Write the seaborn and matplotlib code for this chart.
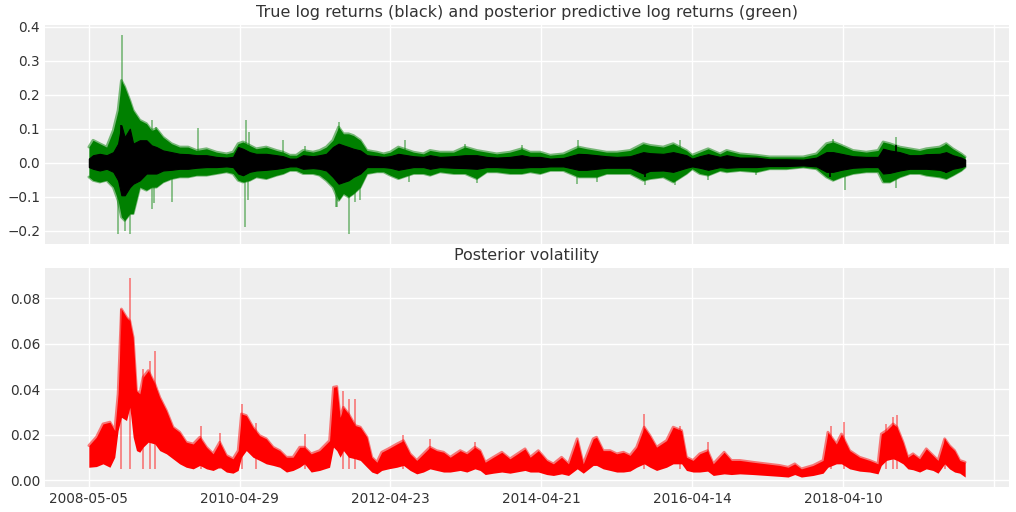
import matplotlib
matplotlib.use("Agg")
import matplotlib.pyplot as plt
import seaborn as sns

# --- values (trading-day index -> value) ---
date_ticks = [0, 500, 1000, 1500, 2000, 2500, 3000]
date_labels = ["2008-05-05", "2010-04-29", "2012-04-23", "2014-04-21",
               "2016-04-14", "2018-04-10", ""]

# top panel: envelope of posterior predictive returns (green) and true returns (black)
ret_idx = [0, 14, 36, 59, 81, 97, 108, 119, 136, 147, 169, 191, 208, 224, 246, 274,
           301, 329, 357, 390, 423, 456, 478, 495, 511, 533, 555, 588, 622, 644, 666,
           688, 710, 743, 765, 787, 809, 828, 844, 861, 877, 900, 922, 955, 977, 999,
           1026, 1076, 1109, 1131, 1164, 1209, 1247, 1286, 1319, 1352, 1396, 1435,
           1463, 1496, 1529, 1573, 1623, 1650, 1683, 1716, 1750, 1794, 1838, 1860,
           1904, 1937, 1981, 2000, 2025, 2053, 2092, 2114, 2158, 2213, 2257, 2312,
           2368, 2412, 2445, 2467, 2495, 2533, 2577, 2616, 2633, 2655, 2688, 2721,
           2754, 2776, 2820, 2842, 2864, 2892, 2905]
pp_hi = [.046, .066, .056, .046, .095, .154, .242, .223, .183, .154, .125, .115, .095,
         .100, .075, .056, .046, .046, .036, .041, .031, .026, .031, .056, .061, .051,
         .041, .046, .036, .031, .022, .022, .036, .031, .036, .046, .066, .105, .085,
         .085, .080, .066, .036, .031, .026, .031, .046, .031, .026, .036, .031, .031,
         .046, .036, .031, .026, .031, .041, .031, .031, .022, .026, .046, .041, .036,
         .031, .031, .036, .056, .051, .046, .056, .036, .022, .031, .041, .026, .036,
         .026, .022, .017, .017, .017, .026, .056, .061, .051, .036, .031, .036, .061,
         .056, .046, .041, .036, .041, .046, .056, .041, .026, .017]
pp_lo = [-.042, -.052, -.057, -.052, -.072, -.111, -.160, -.170, -.150, -.150, -.072,
         -.081, -.072, -.072, -.057, -.047, -.042, -.042, -.037, -.037, -.032, -.027,
         -.032, -.052, -.057, -.052, -.042, -.047, -.037, -.032, -.023, -.023, -.032,
         -.032, -.037, -.052, -.072, -.111, -.091, -.101, -.091, -.072, -.032, -.027,
         -.027, -.037, -.047, -.032, -.032, -.037, -.027, -.032, -.032, -.047, -.027,
         -.027, -.032, -.032, -.027, -.032, -.023, -.023, -.042, -.042, -.042, -.032,
         -.032, -.032, -.052, -.047, -.042, -.057, -.032, -.018, -.032, -.037, -.023,
         -.027, -.023, -.027, -.018, -.018, -.013, -.018, -.042, -.052, -.042, -.032,
         -.027, -.027, -.057, -.057, -.042, -.032, -.032, -.037, -.042, -.047, -.037,
         -.023, -.013]
true_hi = [.012, .022, .026, .022, .031, .056, .110, .075, .100, .056, .066, .066, .051,
           .046, .036, .031, .026, .025, .022, .022, .017, .015, .017, .046, .041, .031,
           .026, .026, .022, .019, .012, .012, .022, .019, .022, .026, .046, .056, .051,
           .046, .041, .036, .022, .019, .017, .019, .026, .019, .017, .022, .017, .019,
           .022, .022, .017, .015, .017, .022, .017, .017, .012, .014, .026, .025, .022,
           .019, .017, .019, .031, .028, .026, .031, .022, .012, .019, .025, .017, .022,
           .015, .015, .010, .010, .009, .015, .031, .031, .026, .019, .017, .017, .041,
           .036, .031, .022, .022, .025, .026, .031, .022, .015, .009]
true_lo = [-.013, -.018, -.023, -.018, -.027, -.052, -.096, -.096, -.072, -.062, -.052,
           -.032, -.032, -.032, -.023, -.021, -.018, -.018, -.015, -.013, -.013, -.011,
           -.013, -.032, -.037, -.027, -.023, -.021, -.018, -.015, -.011, -.011, -.018,
           -.016, -.018, -.023, -.042, -.062, -.057, -.052, -.042, -.032, -.013, -.013,
           -.013, -.015, -.021, -.013, -.013, -.018, -.013, -.015, -.016, -.018, -.013,
           -.013, -.015, -.015, -.013, -.013, -.011, -.011, -.021, -.021, -.018, -.015,
           -.015, -.015, -.032, -.024, -.023, -.027, -.015, -.011, -.015, -.021, -.013,
           -.015, -.013, -.013, -.010, -.010, -.008, -.011, -.027, -.027, -.021, -.015,
           -.013, -.013, -.032, -.030, -.023, -.018, -.018, -.018, -.021, -.027, -.018,
           -.013, -.009]
pp_spike_idx = [97, 109, 119, 136, 208, 208, 216, 224, 276, 362, 519, 520, 528, 531,
                644, 715, 820, 822, 828, 861, 883, 900, 1049, 1060, 1247, 1286, 1435,
                1617, 1623, 1683, 1843, 1943, 1959, 2053, 2213, 2467, 2506, 2677, 2677,
                2842]
pp_spike_val = [-.209, .376, -.200, -.210, .125, -.137, -.120, .105, -.116, .102,
                -.188, .125, -.111, .090, .066, .049, -.130, -.130, .120, -.209, -.116,
                -.111, .066, -.057, .056, -.059, .051, -.062, .066, -.057, -.067, -.065,
                .066, -.052, -.037, .069, -.081, .075, -.076, .056]
true_spike_idx = [108, 1843, 2456, 2677, 2842]
true_spike_val = [.110, -.042, -.042, .051, -.030]

# bottom panel: envelope of posterior volatility samples (red)
vol_idx = [0, 25, 47, 70, 86, 97, 108, 125, 136, 147, 158, 169, 180, 197, 219, 235,
           257, 279, 301, 323, 346, 368, 390, 412, 434, 456, 478, 495, 506, 522, 544,
           566, 588, 611, 633, 655, 677, 699, 715, 737, 765, 798, 811, 822, 833, 844,
           861, 883, 900, 922, 938, 955, 971, 993, 1021, 1043, 1065, 1087, 1109, 1131,
           1153, 1176, 1198, 1231, 1253, 1280, 1297, 1314, 1341, 1369, 1396, 1446,
           1463, 1490, 1518, 1540, 1567, 1590, 1619, 1639, 1672, 1683, 1705, 1728,
           1750, 1772, 1794, 1816, 1841, 1860, 1882, 1915, 1937, 1965, 1981, 2003,
           2025, 2051, 2070, 2106, 2130, 2158, 2202, 2246, 2290, 2318, 2340, 2362,
           2401, 2434, 2450, 2478, 2495, 2522, 2555, 2588, 2616, 2627, 2644, 2666,
           2679, 2699, 2715, 2732, 2754, 2776, 2798, 2815, 2837, 2853, 2870, 2887, 2905]
vol_hi = [.0153, .0190, .0248, .0256, .0219, .0380, .0752, .0715, .0700, .0628, .0394,
          .0380, .0453, .0482, .0423, .0365, .0307, .0234, .0212, .0168, .0160, .0190,
          .0146, .0117, .0168, .0110, .0095, .0131, .0292, .0285, .0234, .0197, .0183,
          .0146, .0131, .0102, .0102, .0146, .0146, .0117, .0131, .0175, .0409, .0412,
          .0277, .0321, .0292, .0241, .0234, .0190, .0102, .0080, .0124, .0139, .0160,
          .0175, .0117, .0088, .0117, .0146, .0131, .0124, .0102, .0131, .0117, .0146,
          .0131, .0080, .0102, .0124, .0095, .0139, .0102, .0131, .0088, .0073, .0102,
          .0073, .0183, .0073, .0183, .0190, .0131, .0131, .0117, .0124, .0110, .0146,
          .0234, .0197, .0146, .0175, .0234, .0219, .0102, .0088, .0117, .0131, .0073,
          .0124, .0088, .0088, .0080, .0073, .0066, .0058, .0073, .0051, .0066, .0088,
          .0212, .0160, .0204, .0131, .0102, .0088, .0073, .0204, .0219, .0248, .0234,
          .0168, .0102, .0117, .0095, .0139, .0110, .0088, .0183, .0153, .0131, .0088,
          .0080]
vol_lo = [.0058, .0061, .0073, .0058, .0102, .0219, .0277, .0263, .0321, .0190, .0131,
          .0124, .0146, .0168, .0160, .0131, .0117, .0095, .0073, .0058, .0051, .0066,
          .0051, .0044, .0058, .0037, .0032, .0044, .0102, .0131, .0102, .0088, .0073,
          .0066, .0058, .0037, .0044, .0058, .0073, .0037, .0044, .0058, .0146, .0131,
          .0102, .0131, .0102, .0095, .0088, .0058, .0037, .0029, .0044, .0051, .0058,
          .0066, .0044, .0029, .0037, .0051, .0044, .0037, .0037, .0044, .0037, .0051,
          .0044, .0026, .0032, .0037, .0032, .0044, .0037, .0037, .0026, .0022, .0029,
          .0022, .0051, .0032, .0066, .0066, .0051, .0044, .0037, .0037, .0041, .0058,
          .0073, .0058, .0044, .0058, .0073, .0073, .0044, .0037, .0037, .0041, .0022,
          .0029, .0026, .0029, .0026, .0022, .0018, .0015, .0026, .0015, .0022, .0032,
          .0058, .0073, .0073, .0051, .0041, .0037, .0029, .0066, .0088, .0095, .0088,
          .0073, .0051, .0047, .0037, .0051, .0044, .0032, .0073, .0051, .0037, .0032,
          .0015]
vol_spike_idx = [108, 136, 180, 204, 219, 373, 436, 508, 553, 715, 844, 861, 883, 1043,
                 1131, 1280, 1841, 1959, 2051, 2461, 2502, 2644, 2666, 2679, 2837]
vol_spike_val = [.0752, .0888, .0490, .0526, .0569, .0240, .0207, .0336, .0250, .0204,
                 .0394, .0356, .0356, .0201, .0180, .0168, .0292, .0240, .0168, .0240,
                 .0255, .0248, .0277, .0288, .0180]

GREEN, RED, BLACK = "#008000", "#ff0000", "#000000"

# --- style: grey panels, white grid, no spines ---
sns.set_theme(style="darkgrid", rc={
    "axes.facecolor": "#eeeeee",
    "grid.color": "white",
    "grid.linewidth": 1.0,
    "axes.edgecolor": "#eeeeee",
    "text.color": "#333333",
    "xtick.color": "#333333",
    "ytick.color": "#333333",
})
plt.rcParams["font.family"] = ["DejaVu Sans"]

fig, axes = plt.subplots(nrows=2, sharex=True, figsize=(10.16, 5.12), dpi=100)
fig.subplots_adjust(left=0.0443, right=0.9931, top=0.9512, bottom=0.0488, hspace=0.11)

# top: posterior predictive (green) under true returns (black)
ax = axes[0]
ax.vlines(pp_spike_idx, 0, pp_spike_val, color=GREEN, alpha=0.5, linewidth=1.2, zorder=1)
ax.fill_between(ret_idx, pp_lo, pp_hi, color=GREEN, linewidth=0, zorder=2)
sns.lineplot(x=ret_idx, y=pp_hi, ax=ax, color=GREEN, alpha=0.5, linewidth=2, zorder=2)
sns.lineplot(x=ret_idx, y=pp_lo, ax=ax, color=GREEN, alpha=0.5, linewidth=2, zorder=2)
ax.vlines(true_spike_idx, 0, true_spike_val, color=BLACK, linewidth=1.2, zorder=3)
ax.fill_between(ret_idx, true_lo, true_hi, color=BLACK, linewidth=0.8, zorder=3)
ax.set_title("True log returns (black) and posterior predictive log returns (green)",
             fontsize=11.5)

# bottom: posterior volatility samples
ax = axes[1]
ax.vlines(vol_spike_idx, 0.005, vol_spike_val, color=RED, alpha=0.5, linewidth=1.2, zorder=1)
ax.fill_between(vol_idx, vol_lo, vol_hi, color=RED, linewidth=0, zorder=2)
sns.lineplot(x=vol_idx, y=vol_hi, ax=ax, color=RED, alpha=0.5, linewidth=2, zorder=2)
ax.set_title("Posterior volatility", fontsize=11.5)

axes[1].set_xticks(date_ticks)
axes[1].set_xticklabels(date_labels)
for ax in axes:
    ax.tick_params(axis="both", labelsize=9.8, length=0, pad=3.5)
    for s in ax.spines.values():
        s.set_visible(False)

fig.savefig("out.png", dpi=100)
